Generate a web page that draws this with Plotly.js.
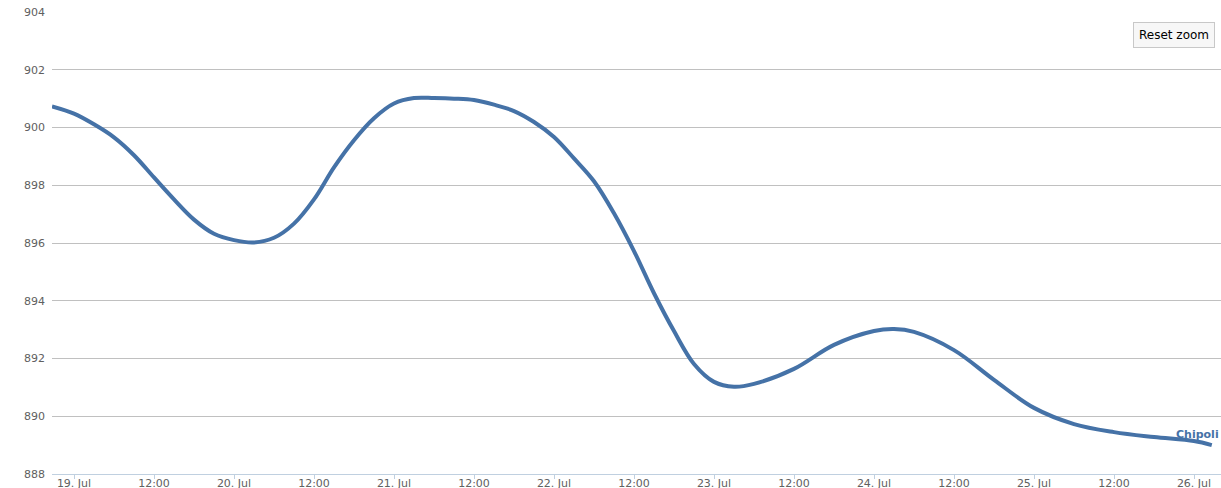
<!DOCTYPE html>
<html>
<head>
    <meta charset="UTF-8">
    <title>Chipoli</title>
    <script src="https://cdn.plot.ly/plotly-3.0.1.min.js"></script>
    <style>
    body {
      margin: 0;
      padding: 0;
      background-color: #ffffff;
    }
    #chart {
      width: 1221px;
      height: 488px;
    }
    </style>
</head>
<body>
    <div id="chart"></div>

    <script>
        // readings, Chipoli
        var times = [
            '2013-07-18 20:42', '2013-07-19 00:00', '2013-07-19 03:00', '2013-07-19 06:00',
            '2013-07-19 09:00', '2013-07-19 12:00', '2013-07-19 15:00', '2013-07-19 18:00',
            '2013-07-19 21:00', '2013-07-20 00:00', '2013-07-20 03:00', '2013-07-20 06:00',
            '2013-07-20 09:00', '2013-07-20 12:00', '2013-07-20 15:00', '2013-07-20 18:00',
            '2013-07-20 21:00', '2013-07-21 00:00', '2013-07-21 03:00', '2013-07-21 06:00',
            '2013-07-21 09:00', '2013-07-21 12:00', '2013-07-21 15:00', '2013-07-21 18:00',
            '2013-07-21 21:00', '2013-07-22 00:00', '2013-07-22 03:00', '2013-07-22 06:00',
            '2013-07-22 09:00', '2013-07-22 12:00', '2013-07-22 15:00', '2013-07-22 18:00',
            '2013-07-22 21:00', '2013-07-23 00:00', '2013-07-23 03:00', '2013-07-23 06:00',
            '2013-07-23 12:00', '2013-07-23 18:00', '2013-07-24 00:00', '2013-07-24 03:00',
            '2013-07-24 06:00', '2013-07-24 12:00', '2013-07-24 18:00', '2013-07-25 00:00',
            '2013-07-25 06:00', '2013-07-25 12:00', '2013-07-25 18:00', '2013-07-26 00:00',
            '2013-07-26 02:40'
        ];
        var values = [
            900.73, 900.48, 900.11, 899.66,
            899.04, 898.27, 897.51, 896.81,
            896.32, 896.10, 896.02, 896.18,
            896.67, 897.51, 898.62, 899.56,
            900.32, 900.83, 901.02, 901.02,
            901.00, 900.95, 900.79, 900.57,
            900.19, 899.67, 898.93, 898.14,
            897.03, 895.72, 894.26, 892.95,
            891.81, 891.19, 891.02, 891.12,
            891.64, 892.47, 892.95, 893.02,
            892.92, 892.29, 891.26, 890.29,
            889.73, 889.45, 889.28, 889.14,
            889.00
        ];
        var seriesName = 'Chipoli';

        // x axis ticks
        var tickVals = [
            '2013-07-19 00:00', '2013-07-19 12:00', '2013-07-20 00:00', '2013-07-20 12:00',
            '2013-07-21 00:00', '2013-07-21 12:00', '2013-07-22 00:00', '2013-07-22 12:00',
            '2013-07-23 00:00', '2013-07-23 12:00', '2013-07-24 00:00', '2013-07-24 12:00',
            '2013-07-25 00:00', '2013-07-25 12:00', '2013-07-26 00:00'
        ];
        var tickLabels = [
            '19. Jul', '12:00', '20. Jul', '12:00',
            '21. Jul', '12:00', '22. Jul', '12:00',
            '23. Jul', '12:00', '24. Jul', '12:00',
            '25. Jul', '12:00', '26. Jul'
        ];

        var lineColor = '#4572A7';
        var font = 'DejaVu Sans, Verdana, sans-serif';

        var trace = {
            x: times,
            y: values,
            name: seriesName,
            type: 'scatter',
            mode: 'lines',
            line: { color: lineColor, width: 4, shape: 'spline', smoothing: 1 },
            hoverinfo: 'x+y'
        };

        var layout = {
            width: 1221,
            height: 488,
            margin: { l: 52, r: 0, t: 12, b: 14 },
            paper_bgcolor: '#ffffff',
            plot_bgcolor: '#ffffff',
            showlegend: false,
            font: { family: font, size: 11, color: '#606060' },
            xaxis: {
                type: 'date',
                range: ['2013-07-18 20:42', '2013-07-26 04:03'],
                tickmode: 'array',
                tickvals: tickVals,
                ticktext: tickLabels,
                showgrid: false,
                zeroline: false,
                showline: true,
                linecolor: '#C0D0E0',
                linewidth: 1,
                ticks: 'outside',
                ticklen: 4,
                tickcolor: '#C0D0E0',
                ticklabelstandoff: -5,
                tickfont: { family: font, size: 11, color: '#606060' }
            },
            yaxis: {
                range: [888, 904],
                dtick: 2,
                tick0: 888,
                showgrid: true,
                gridcolor: '#C0C0C0',
                gridwidth: 1,
                zeroline: false,
                showline: false,
                ticks: '',
                ticklabelstandoff: 6,
                tickfont: { family: font, size: 11, color: '#606060' }
            },
            annotations: [
                {
                    // series label at the end of the line
                    x: times[times.length - 1],
                    y: values[values.length - 1],
                    xref: 'x', yref: 'y',
                    text: '<b>' + seriesName + '</b>',
                    showarrow: false,
                    xanchor: 'right',
                    yanchor: 'bottom',
                    xshift: 9,
                    yshift: 2,
                    font: { family: font, size: 11, color: lineColor }
                },
                {
                    x: 0.96, y: 0.95,
                    xref: 'paper', yref: 'paper',
                    text: 'Reset zoom',
                    showarrow: false,
                    xanchor: 'center',
                    yanchor: 'middle',
                    bgcolor: '#f7f7f7',
                    bordercolor: '#c8c8c8',
                    borderwidth: 1,
                    borderpad: 5,
                    font: { family: font, size: 12, color: '#000000' }
                }
            ]
        };

        Plotly.newPlot('chart', [trace], layout, { displayModeBar: false });
    </script>
</body>
</html>
